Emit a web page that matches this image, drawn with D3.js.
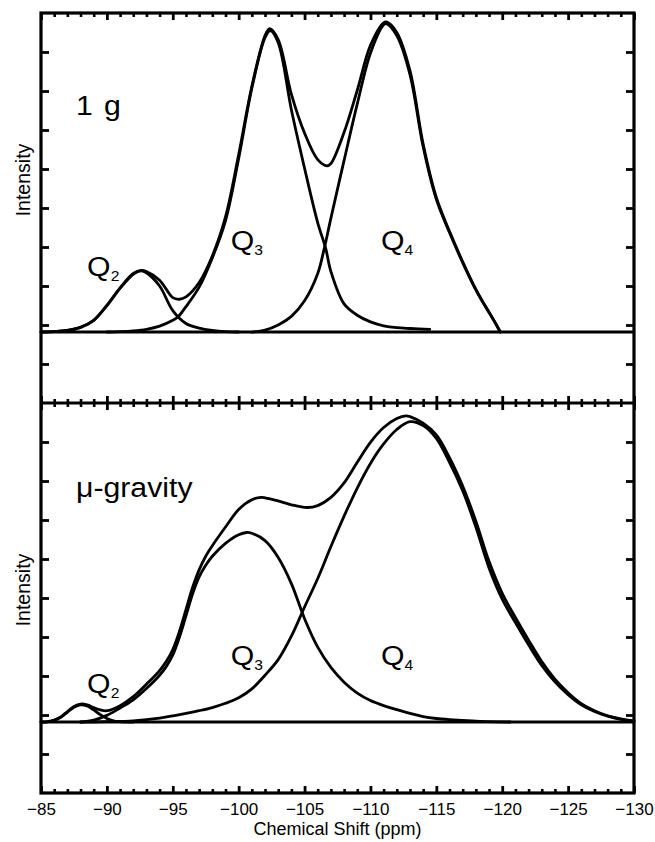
<!DOCTYPE html>
<html><head><meta charset="utf-8">
<script src="https://cdn.jsdelivr.net/npm/d3@7"></script>
<style>
body{margin:0;background:#fff}
svg{display:block}
text{font-family:"Liberation Sans",Arial,Helvetica,sans-serif;fill:#000}
</style>
</head><body>
<svg id="chart" width="655" height="842"></svg>
<script>
// ---------- data ----------
const xMajorTicks = [-85,-90,-95,-100,-105,-110,-115,-120,-125,-130];
const yTickValues = [-1,0,1,2,3,4,5,6,7];
const baselineLevel = -0.18;           // intensity zero sits slightly below a tick
const xLabel = "Chemical Shift (ppm)";
const yLabel = "Intensity";
const panelNames = ["1 g", "\u03bc-gravity"];

// 1 g panel: [ppm, intensity]
const topQ2 = [[-85,0],[-86,0.01],[-87,0.04],[-88,0.12],[-89,0.3],[-90,0.68],[-91,1.12],[-92,1.48],[-92.6,1.57],[-93,1.52],[-94,1.18],[-95,0.55],[-96,0.22],[-97,0.1],[-98,0.04],[-99,0.01],[-100,0]];
const topQ3 = [[-90,0],[-91,0.01],[-92,0.03],[-93,0.07],[-94,0.15],[-95,0.3],[-95.4,0.39],[-96,0.65],[-97,1.15],[-98,1.9],[-99,2.85],[-100,4.45],[-101,6.25],[-102,7.55],[-102.4,7.73],[-103,7.42],[-104,5.7],[-105,4.2],[-106,2.8],[-106.6,2.15],[-107,1.55],[-108,0.72],[-109,0.43],[-110,0.26],[-111,0.16],[-112,0.11],[-113,0.09],[-114.5,0.07]];
const topQ4 = [[-101,0],[-102,0.05],[-103,0.18],[-104,0.4],[-105,0.8],[-106,1.5],[-106.5,2.15],[-107,2.92],[-108,4.4],[-109,5.85],[-110,7.15],[-111,7.88],[-111.2,7.91],[-112,7.6],[-113,6.6],[-114,4.75],[-115,3.4],[-116,2.55],[-117,1.78],[-118,1.08],[-118.5,0.78],[-119,0.5],[-119.5,0.22],[-119.85,0]];
const topSum = [[-85,0],[-86,0.01],[-87,0.04],[-88,0.12],[-89,0.3],[-90,0.68],[-91,1.13],[-92,1.5],[-92.6,1.58],[-93,1.55],[-94,1.33],[-95,0.88],[-95.5,0.84],[-96,0.9],[-97,1.27],[-98,1.95],[-99,2.95],[-100,4.55],[-101,6.3],[-102,7.6],[-102.35,7.78],[-103,7.5],[-104,6.1],[-105,5.1],[-106,4.42],[-106.7,4.26],[-107,4.32],[-108,5.12],[-109,6.2],[-110,7.35],[-111,7.93],[-111.2,7.95],[-112,7.68],[-113,6.7],[-114,4.82],[-115,3.45],[-116,2.58],[-117,1.8],[-118,1.09],[-118.5,0.79],[-119,0.51],[-119.5,0.22],[-119.85,0]];

// micro-gravity panel
const botQ2 = [[-85,0],[-85.5,0.005],[-86,0.04],[-86.5,0.12],[-87,0.25],[-87.5,0.38],[-88,0.44],[-88.5,0.41],[-89,0.31],[-89.5,0.19],[-90,0.09],[-90.5,0.03],[-91,0.01],[-92,0]];
const botQ3 = [[-88,0],[-89,0.05],[-90,0.17],[-91,0.36],[-92,0.57],[-93,0.86],[-94,1.2],[-94.5,1.42],[-95,1.72],[-95.5,2.17],[-96,2.72],[-96.5,3.28],[-97,3.72],[-97.5,4.02],[-98,4.25],[-99,4.58],[-100,4.8],[-100.6,4.86],[-101,4.84],[-102,4.65],[-103,4.22],[-104,3.55],[-105,2.65],[-106,1.92],[-107,1.4],[-108,1.02],[-109,0.74],[-110,0.55],[-111,0.42],[-112,0.32],[-113,0.22],[-114,0.14],[-115,0.09],[-116,0.06],[-117,0.04],[-118,0.02],[-119,0.01],[-120.6,0]];
const botQ4 = [[-88,0],[-90,0.01],[-92,0.03],[-94,0.1],[-96,0.22],[-97,0.29],[-98,0.37],[-99,0.48],[-100,0.62],[-101,0.85],[-102,1.2],[-103,1.6],[-104,2.2],[-105,2.95],[-106,3.68],[-107,4.5],[-108,5.28],[-109,6.0],[-110,6.63],[-111,7.13],[-112,7.5],[-113,7.7],[-114,7.6],[-115,7.27],[-116,6.66],[-117,5.93],[-118,5.0],[-119,3.95],[-120,3.15],[-121,2.55],[-122,1.98],[-123,1.45],[-124,1.03],[-125,0.7],[-126,0.44],[-127,0.27],[-128,0.15],[-129,0.07],[-130,0.02]];
const botSum = [[-85,0],[-85.5,0.01],[-86,0.05],[-86.5,0.13],[-87,0.27],[-87.5,0.4],[-88,0.46],[-88.5,0.44],[-89,0.37],[-89.5,0.31],[-90,0.29],[-91,0.42],[-92,0.65],[-93,0.97],[-94,1.32],[-94.5,1.55],[-95,1.86],[-95.5,2.32],[-96,2.88],[-96.5,3.45],[-97,3.9],[-97.5,4.25],[-98,4.52],[-99,5.0],[-100,5.45],[-101,5.7],[-101.7,5.76],[-102,5.75],[-103,5.67],[-104,5.57],[-105.2,5.5],[-106,5.55],[-107,5.76],[-108,6.13],[-109,6.66],[-110,7.17],[-111,7.55],[-112,7.78],[-112.7,7.85],[-113,7.83],[-114,7.66],[-115,7.36],[-116,6.78],[-117,6.05],[-118,5.15],[-119,4.12],[-120,3.3],[-121,2.68],[-122,2.1],[-123,1.55],[-124,1.1],[-125,0.75],[-126,0.47],[-127,0.29],[-128,0.16],[-129,0.08],[-130,0.03]];

const qNames = ["2","3","4"];
const qPpmTop = [-88.5,-99.4,-110.8];     // label anchor (ppm) in 1 g panel
const qIntTop = [1.44,2.1,2.1];
const qPpmBot = [-88.5,-99.4,-110.8];
const qIntBot = [0.74,1.46,1.46];

// ---------- layout ----------
const svg = d3.select("#chart");
const L = 41, R = 634, T = 13, MID = 403, B = 793;
const stretch = 1.12;   // reference lettering is slightly wide
const x = d3.scaleLinear().domain([-85,-130]).range([L,R]);
const yTop = d3.scaleLinear().domain([-2,8]).range([MID,T]);
const yBot = d3.scaleLinear().domain([-2,8]).range([B,MID]);
const minorTicks = d3.range(-86,-130,-1).filter(v => v % 5 !== 0);

function styleAxis(g, w){
  g.select(".domain").remove();
  g.selectAll(".tick line").attr("stroke","#000").attr("stroke-width",w);
}

function panel(y, series, name, nameY, nameLen, labelY, qPpm, qInt){
  const line = d3.line().x(d=>x(d[0])).y(d=>y(baselineLevel + d[1])).curve(d3.curveCatmullRom.alpha(0.5));
  // baseline
  svg.append("path").datum([[-85,0],[-130,0]]).attr("d", line)
    .attr("fill","none").attr("stroke","#000").attr("stroke-width",2.8);
  series.forEach(s => {
    svg.append("path").datum(s).attr("d", line)
      .attr("fill","none").attr("stroke","#000").attr("stroke-width",2.8)
      .attr("stroke-linejoin","round").attr("stroke-linecap","round");
  });
  // y ticks left & right (inward)
  svg.append("g").attr("transform",`translate(${L},0)`)
    .call(d3.axisLeft(y).tickValues(yTickValues).tickSize(-8).tickFormat(""))
    .call(g=>styleAxis(g,2.8));
  svg.append("g").attr("transform",`translate(${R},0)`)
    .call(d3.axisRight(y).tickValues(yTickValues).tickSize(-8).tickFormat(""))
    .call(g=>styleAxis(g,2.8));
  // y label
  svg.append("text").attr("transform",`translate(30,${labelY}) rotate(-90)`)
    .attr("text-anchor","middle").attr("font-size",19.5).text(yLabel);
  // panel name
  const nm = svg.append("text").attr("transform",`translate(76,${nameY}) scale(${stretch},1)`)
    .attr("font-size",27).text(name);
  if (nameLen) nm.attr("textLength",nameLen).attr("lengthAdjust","spacing");
  // Q labels
  qNames.forEach((n,i) => {
    const t = svg.append("text")
      .attr("transform",`translate(${x(qPpm[i])},${y(baselineLevel + qInt[i])}) scale(${stretch},1)`)
      .attr("font-size",27);
    t.append("tspan").text("Q");
    t.append("tspan").attr("font-size",14).attr("dy",5).text(n);
  });
}

panel(yTop, [topQ2, topQ3, topQ4, topSum], panelNames[0], 115, 40, 180, qPpmTop, qIntTop);
panel(yBot, [botQ2, botQ3, botQ4, botSum], panelNames[1], 497, null, 590, qPpmBot, qIntBot);

// x ticks: top edge (down), middle (both ways), bottom (up)
function xTicks(yPos, axisFn, size, minorSize, labels){
  svg.append("g").attr("transform",`translate(0,${yPos})`)
    .call(axisFn(x).tickValues(minorTicks).tickSize(minorSize).tickFormat(""))
    .call(g=>styleAxis(g,2.6));
  const g = svg.append("g").attr("transform",`translate(0,${yPos})`)
    .call(axisFn(x).tickValues(xMajorTicks).tickSize(size).tickPadding(10).tickFormat(labels ? d3.format("d") : ""))
    .call(gg=>styleAxis(gg,2.8));
  g.selectAll("text").attr("font-size",17).attr("fill","#000")
    .style("font-family","'Liberation Sans',Arial,sans-serif");
}
xTicks(T, d3.axisTop, -7, -4, false);
xTicks(MID, d3.axisTop, 7, 4, false);
xTicks(MID, d3.axisBottom, 7, 4, false);
xTicks(B, d3.axisBottom, -7, -4, true);

// frame
svg.append("rect").attr("x",L).attr("y",T).attr("width",R-L).attr("height",B-T)
  .attr("fill","none").attr("stroke","#000").attr("stroke-width",3.2);
svg.append("line").attr("x1",L).attr("x2",R).attr("y1",MID).attr("y2",MID)
  .attr("stroke","#000").attr("stroke-width",3.2);

// x title
svg.append("text").attr("x",(L+R)/2).attr("y",835).attr("text-anchor","middle")
  .attr("font-size",18).text(xLabel);
</script>
</body></html>
